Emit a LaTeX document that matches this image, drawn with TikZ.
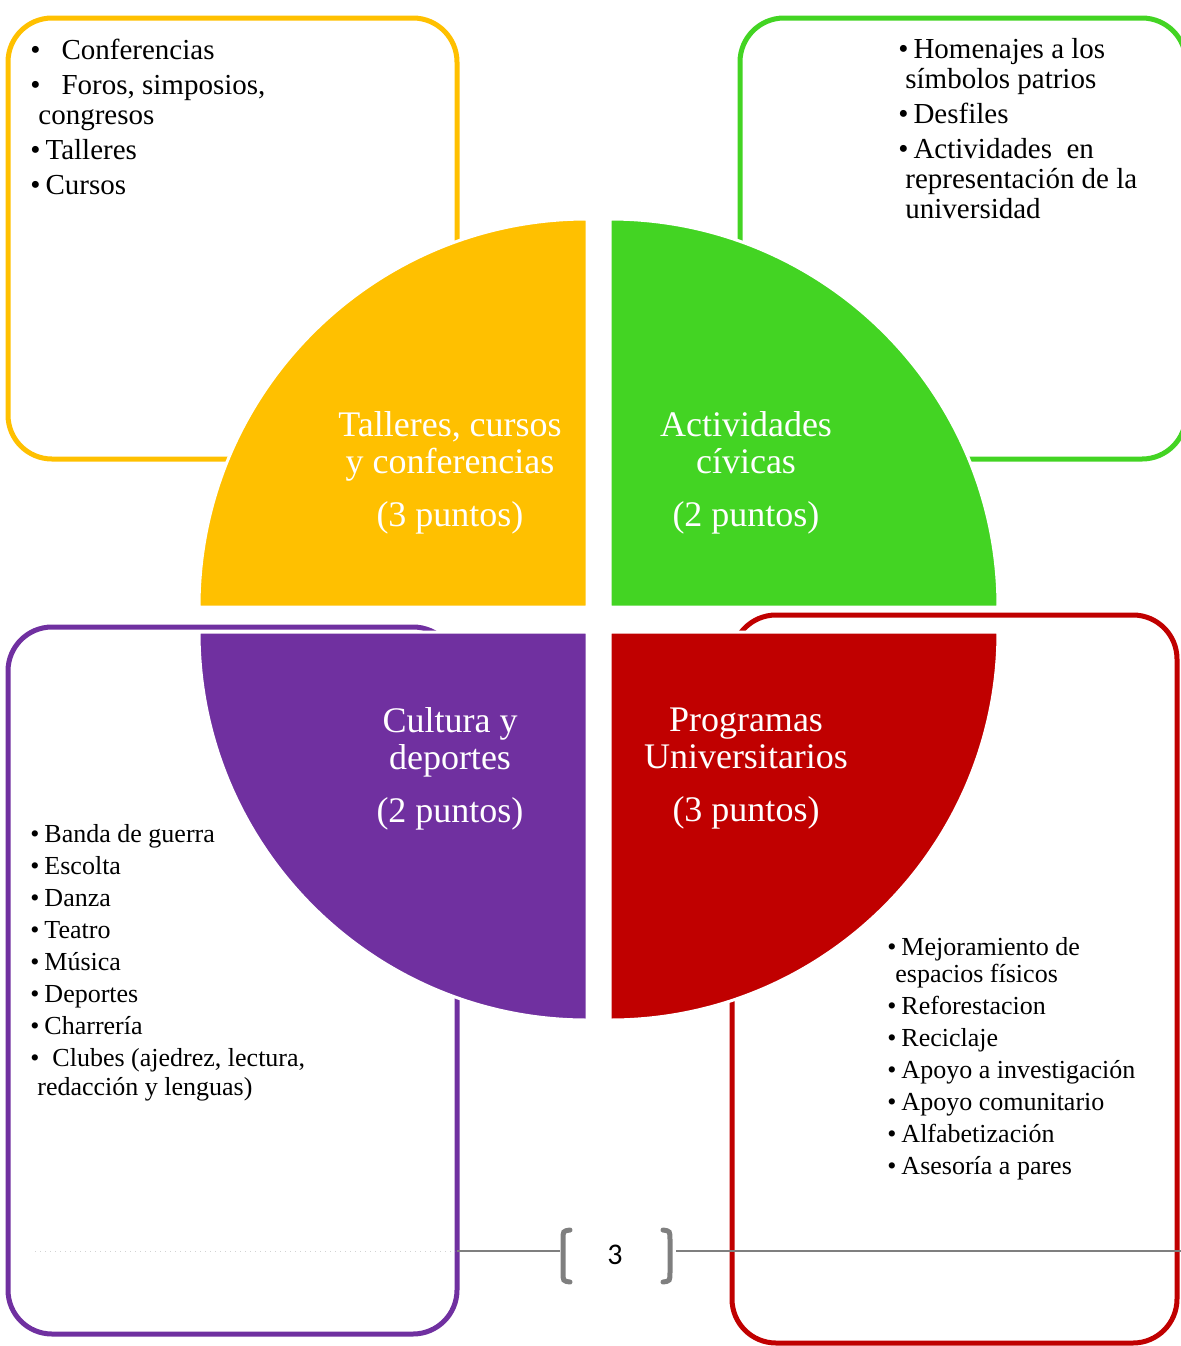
\documentclass[tikz,border=0pt]{standalone}
\usepackage{fontspec}
\setmainfont{Liberation Serif}
\newfontfamily\pagefont{Carlito}
\usetikzlibrary{positioning}
\definecolor{cyellow}{RGB}{255,192,0}
\definecolor{cgreen}{RGB}{67,212,35}
\definecolor{cpurple}{RGB}{112,48,160}
\definecolor{cred}{RGB}{192,0,0}
\definecolor{cgray}{RGB}{127,127,127}
\newcommand{\itm}{\textbullet\hspace{2.5pt}}

\begin{document}
\begin{tikzpicture}[
    x=0.5pt, y=-0.5pt,
    frame/.style={line width=2.5pt, rounded corners=22pt},
    quarter/.style={draw=white, line width=1.5pt},
    label/.style={text=white, align=center, inner sep=0pt, font=\fontsize{18}{18.5}\selectfont},
    biglist/.style={align=left, inner sep=0pt, anchor=north west, font=\fontsize{14.5}{15}\selectfont},
    smalllist/.style={align=left, inner sep=0pt, anchor=north west, font=\fontsize{13}{14.5}\selectfont},
    pageline/.style={draw=cgray, line width=1.2pt}
]
\useasboundingbox (0,0) rectangle (1181,1346);

% ========== OUTER FRAMES ==========
\draw[frame, cyellow] (8,18) rectangle (457,459);
\draw[frame, cgreen] (740,18) rectangle (1186,459);
\draw[frame, cpurple] (8,627) rectangle (457,1334);
\draw[frame, cred] (732,615) rectangle (1177,1343);

% ========== PAGE NUMBER ==========
\draw[gray!35, line width=0.5pt, dotted] (35,1251) -- (455,1251);
\node[font=\pagefont\fontsize{15}{15}\selectfont] (num) at (615,1255) {3};
\draw[pageline] (457,1251) -- (560,1251);
\draw[pageline] (676,1251) -- (1181,1251);
\draw[draw=cgray, line width=2.5pt, line cap=round] (570,1230) .. controls (563,1231) .. (563,1240) -- (563,1272) .. controls (563,1281) .. (570,1282);
\draw[draw=cgray, line width=2.5pt, line cap=round] (663,1230) .. controls (670,1231) .. (670,1240) -- (670,1272) .. controls (670,1281) .. (663,1282);

% ========== QUARTER DISC ==========
\filldraw[quarter, fill=cyellow] (587,607) -- (199,607) arc[start angle=180, end angle=90, radius=194pt] -- cycle;
\filldraw[quarter, fill=cgreen] (610,607) -- (610,219) arc[start angle=90, end angle=0, radius=194pt] -- cycle;
\filldraw[quarter, fill=cpurple] (587,632) -- (587,1020) arc[start angle=270, end angle=180, radius=194pt] -- cycle;
\filldraw[quarter, fill=cred] (610,632) -- (998,632) arc[start angle=0, end angle=-90, radius=194pt] -- cycle;

% Labels
\node[label] (talleres) at (450,473) {Talleres, cursos\\y conferencias\\[8pt](3 puntos)};
\node[label] (civicas) at (746,473) {Actividades\\cívicas\\[8pt](2 puntos)};
\node[label] (cultura) at (450,769) {Cultura y\\deportes\\[8pt](2 puntos)};
\node[label] (programas) at (746,769) {Programas\\Universitarios\\[8pt](3 puntos)};

% ========== LISTS ==========
\node[biglist] (listtalleres) at (30,39) {%
    \itm\hspace{8pt}Conferencias\\[2.5pt]
    \itm\hspace{8pt}Foros, simposios,\\
    \hspace*{4pt}congresos\\[2.5pt]
    \itm Talleres\\[2.5pt]
    \itm Cursos};

\node[biglist] (listcivicas) at (898,38) {%
    \itm Homenajes a los\\
    \hspace*{3.5pt}símbolos patrios\\[2.5pt]
    \itm Desfiles\\[2.5pt]
    \itm Actividades\ \ en\\
    \hspace*{3.5pt}representación de la\\
    \hspace*{3.5pt}universidad};

\node[smalllist] (listcultura) at (30,824) {%
    \itm Banda de guerra\\[1.5pt]
    \itm Escolta\\[1.5pt]
    \itm Danza\\[1.5pt]
    \itm Teatro\\[1.5pt]
    \itm Música\\[1.5pt]
    \itm Deportes\\[1.5pt]
    \itm Charrería\\[1.5pt]
    \itm\hspace{4pt}Clubes (ajedrez, lectura,\\
    \hspace*{3.5pt}redacción y lenguas)};

\node[smalllist] (listprogramas) at (887,937) {%
    \itm Mejoramiento de\\[-1pt]
    \hspace*{4pt}espacios físicos\\[1.5pt]
    \itm Reforestacion\\[1.5pt]
    \itm Reciclaje\\[1.5pt]
    \itm Apoyo a investigación\\[1.5pt]
    \itm Apoyo comunitario\\[1.5pt]
    \itm Alfabetización\\[1.5pt]
    \itm Asesoría a pares};

\end{tikzpicture}
\end{document}
